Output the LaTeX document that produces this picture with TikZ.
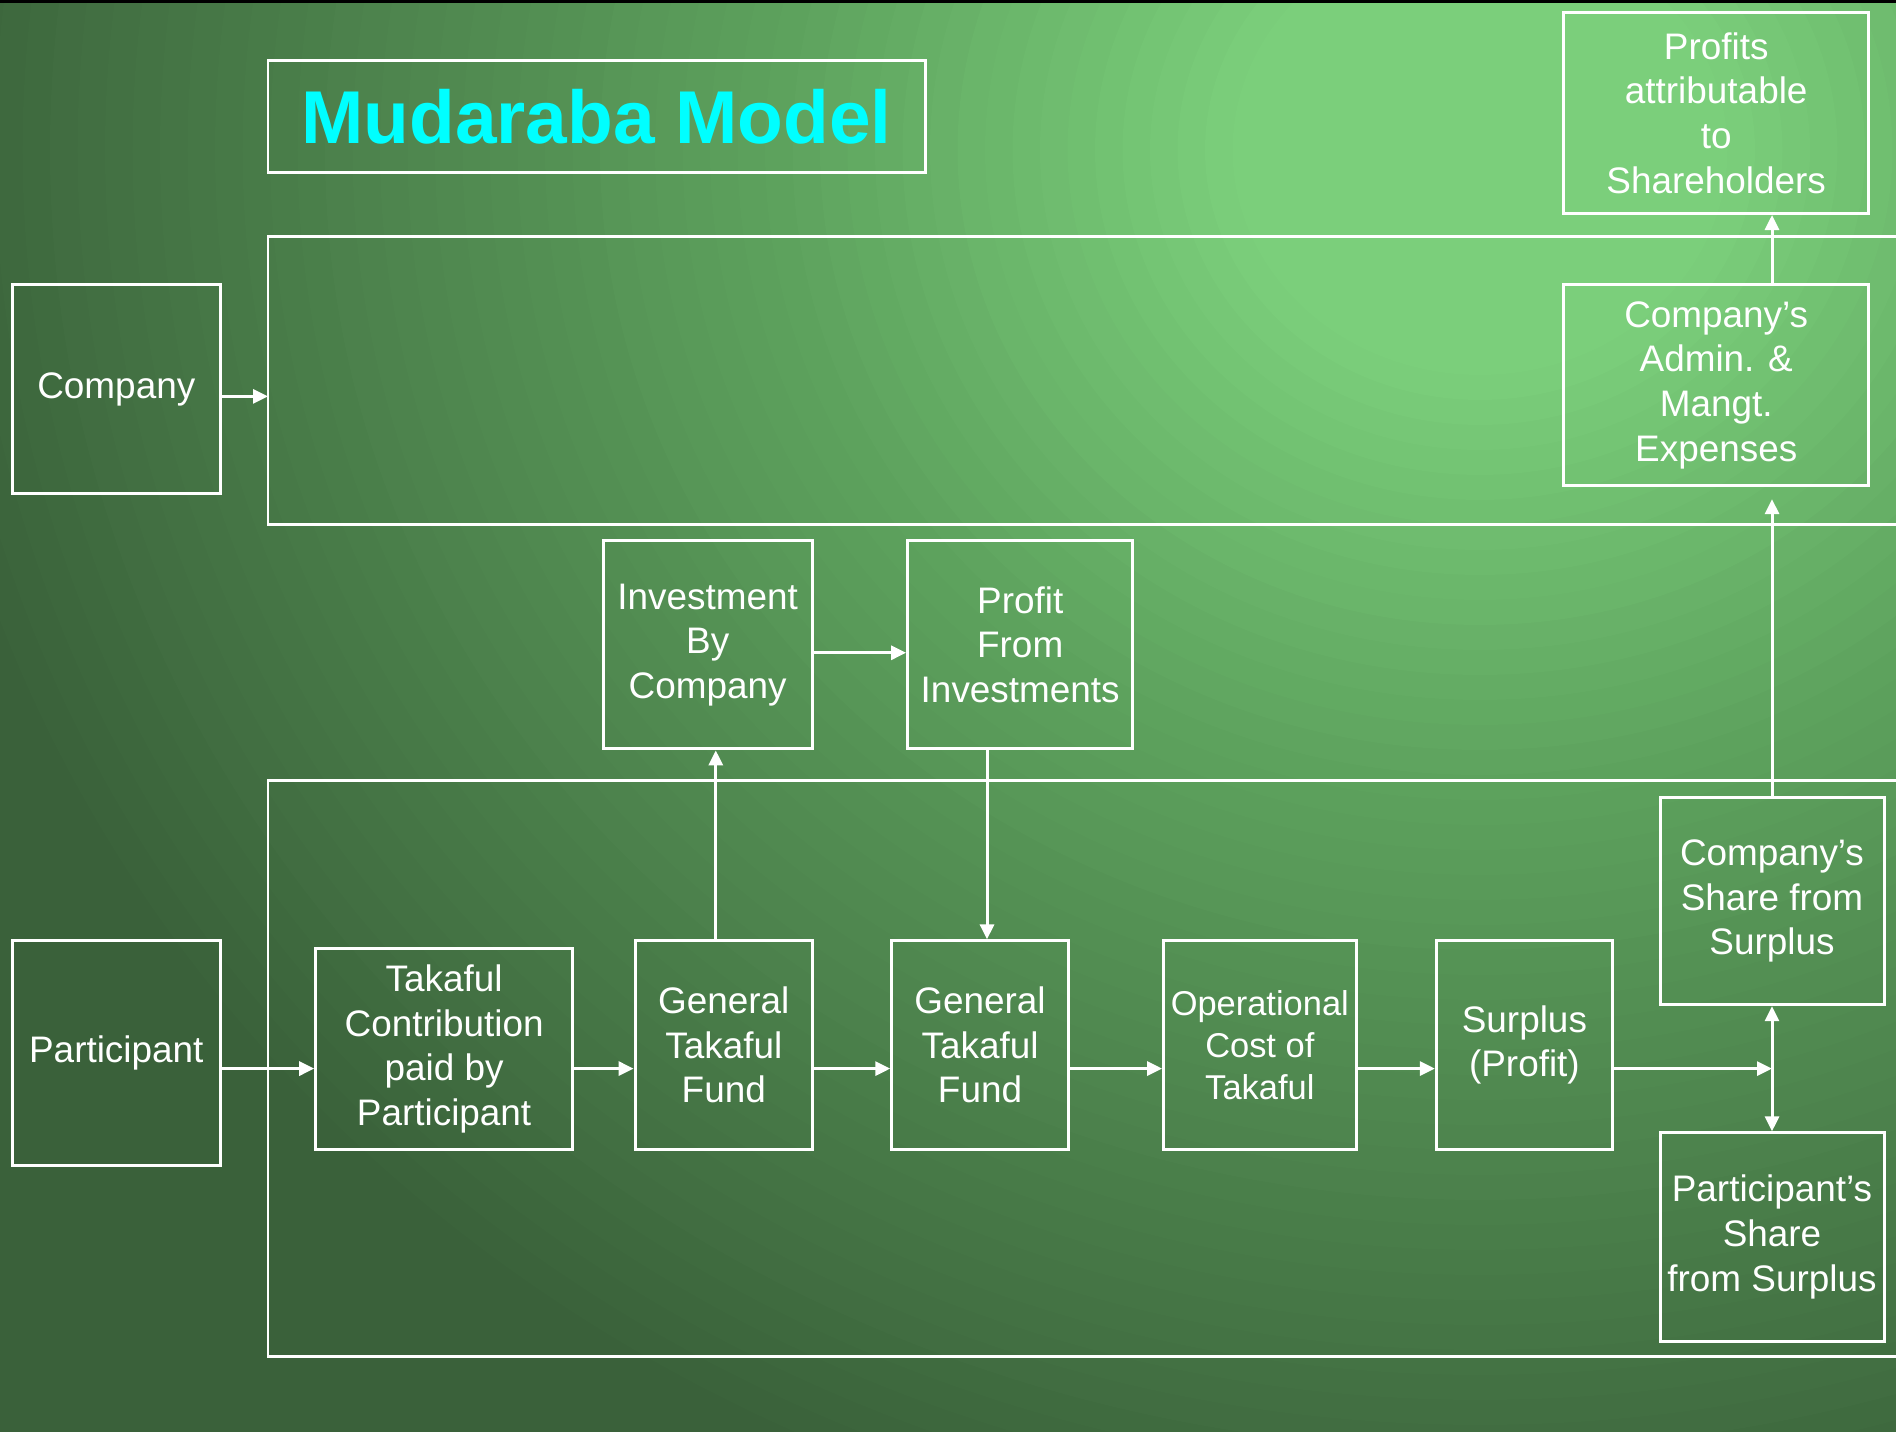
\documentclass[tikz,border=0pt]{standalone}
\usepackage{fontspec}
\setmainfont{Liberation Sans}
\usetikzlibrary{arrows.meta}
\definecolor{glowlight}{HTML}{7BCF7B}
\definecolor{glowmid}{HTML}{5EA35E}
\definecolor{glowdark}{HTML}{3A613A}
\definecolor{titlecyan}{HTML}{00FFFF}
\tikzset{
  box/.style={draw=white, line width=0.85pt, text=white, align=center, inner sep=0pt,
    font=\fontsize{10.5}{12.7}\selectfont},
  frame/.style={draw=white, line width=0.85pt},
  flow/.style={draw=white, line width=0.85pt, ->},
  >={Triangle[length=0.15cm,width=0.14cm]}
}

\begin{document}
\begin{tikzpicture}
        \useasboundingbox (0,0) rectangle (18.96,14.32);
        % Background glow
        \fill[glowdark] (0,0) rectangle (18.96,14.32);
        \begin{scope}
            \clip (0,0) rectangle (18.96,14.32);
            \foreach \r in {14.5,14.25,...,0.2} {
                \pgfmathtruncatemacro\glowa{max(0,min(100,(14.5-\r)/8.12*100))}
                \pgfmathtruncatemacro\glowb{max(0,min(100,(6.38-\r)/4.06*100))}
                \fill[glowlight!\glowb!glowmid!\glowa!glowdark] (14.8,12.82) ellipse [x radius=1.1*\r, y radius=\r];
            }
        \end{scope}
        \fill[black] (0,14.29) rectangle (18.96,14.32);

        % Title
        \node[box, minimum width=6.57cm, minimum height=1.12cm, text=titlecyan,
            font=\fontsize{21.3}{25}\selectfont\bfseries] (title) at (5.965,13.154) {Mudaraba Model};

        % Frames
        \draw[frame] (18.96,11.952) -- (2.68,11.952) -- (2.68,9.07) -- (18.96,9.07);
        \draw[frame] (18.96,6.514) -- (2.68,6.514) -- (2.68,0.754) -- (18.96,0.754);
        \coordinate (topin) at (2.68,10.356);
        \coordinate (row) at (0,3.634);

        % Company side
        \node[box, minimum width=2.085cm, minimum height=2.09cm] (company) at (1.163,10.429) {Company};
        \node[box, minimum width=3.052cm, minimum height=2.011cm] (profits) at (17.162,13.19) {Profits\\attributable\\to\\Shareholders};
        \node[box, minimum width=3.052cm, minimum height=2.011cm] (admin) at (17.162,10.469) {Company’s\\Admin. \&\\Mangt.\\Expenses};
        \node[box, minimum width=2.09cm, minimum height=2.083cm] (investment) at (7.077,7.872) {Investment\\By\\Company};
        \node[box, minimum width=2.253cm, minimum height=2.083cm] (profitinv) at (10.202,7.872) {Profit\\From\\Investments};

        % Participant side
        \node[box, minimum width=2.085cm, minimum height=2.245cm] (participant) at (1.163,3.788) {Participant};
        \node[box, minimum width=2.568cm, minimum height=2.005cm] (contribution) at (4.441,3.832) {Takaful\\Contribution\\paid by\\Participant};
        \node[box, minimum width=1.775cm, minimum height=2.082cm] (fund1) at (7.238,3.87) {General\\Takaful\\Fund};
        \node[box, minimum width=1.765cm, minimum height=2.082cm] (fund2) at (9.8,3.87) {General\\Takaful\\Fund};
        \node[box, minimum width=1.924cm, minimum height=2.082cm, font=\fontsize{9.8}{11.9}\selectfont] (opcost) at (12.598,3.87) {Operational\\Cost of\\Takaful};
        \node[box, minimum width=1.761cm, minimum height=2.082cm] (surplus) at (15.244,3.87) {Surplus\\(Profit)};
        \node[box, minimum width=2.24cm, minimum height=2.074cm] (compshare) at (17.72,5.31) {Company’s\\Share from\\Surplus};
        \node[box, minimum width=2.24cm, minimum height=2.082cm] (partshare) at (17.72,1.95) {Participant’s\\Share\\from Surplus};

        % Arrows
        \draw[flow] (company.east |- topin) -- (topin);
        \draw[flow] (participant.east |- row) -- (contribution.west |- row);
        \draw[flow] (contribution.east |- row) -- (fund1.west |- row);
        \draw[flow] (fund1.east |- row) -- (fund2.west |- row);
        \draw[flow] (fund2.east |- row) -- (opcost.west |- row);
        \draw[flow] (opcost.east |- row) -- (surplus.west |- row);
        \coordinate (split) at (compshare.south |- row);
        \draw[flow] (surplus.east |- row) -- (split);
        \draw[flow, <->] (compshare.south) -- (partshare.north);

        \coordinate (invup) at ([xshift=-0.08cm]fund1.north);
        \coordinate (invright) at ([yshift=-0.08cm]investment.east);
        \coordinate (invdown) at ([xshift=0.07cm]fund2.north);
        \draw[flow] (invup) -- (invup |- investment.south);
        \draw[flow] (invright) -- (invright -| profitinv.west);
        \draw[flow] (invdown |- profitinv.south) -- (invdown);

        \draw[flow, shorten >=0.12cm] (compshare.north) -- (compshare.north |- admin.south);
        \draw[flow] (admin.north -| compshare.north) -- (profits.south -| compshare.north);
\end{tikzpicture}
\end{document}
